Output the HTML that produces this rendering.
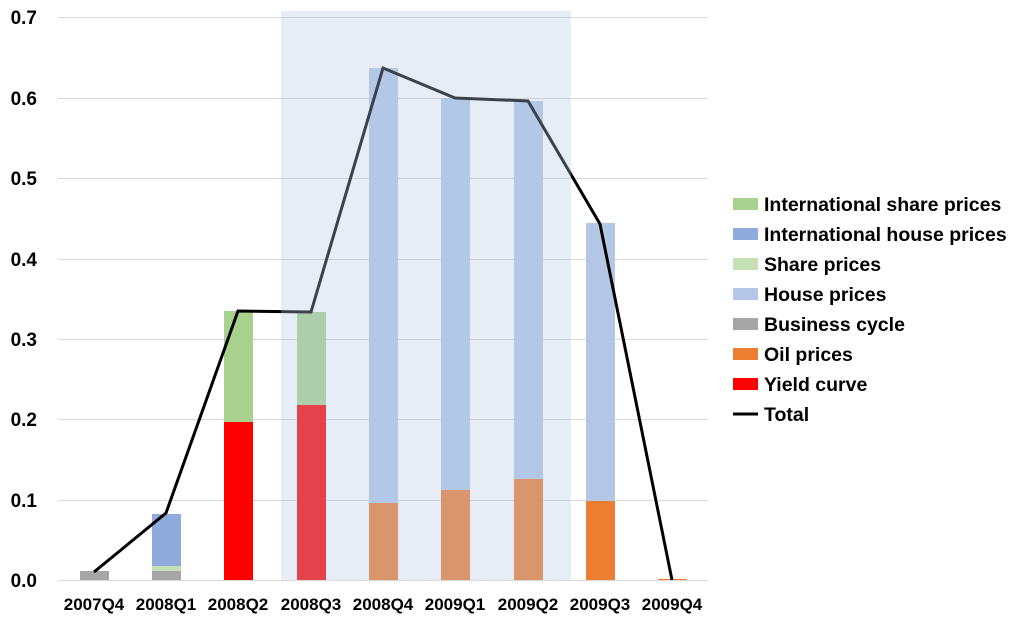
<!DOCTYPE html>
<html><head><meta charset="utf-8"><style>
body{margin:0;background:#fff}
text{font-family:"Liberation Sans",Arial,sans-serif;font-weight:bold;fill:#000}
</style></head><body>
<svg width="1024" height="620" xmlns="http://www.w3.org/2000/svg">
<g stroke="#d9d9d9" stroke-width="1">
<line x1="58" x2="708" y1="580.5" y2="580.5"/>
<line x1="58" x2="708" y1="500.5" y2="500.5"/>
<line x1="58" x2="708" y1="419.5" y2="419.5"/>
<line x1="58" x2="708" y1="339.5" y2="339.5"/>
<line x1="58" x2="708" y1="259.5" y2="259.5"/>
<line x1="58" x2="708" y1="178.5" y2="178.5"/>
<line x1="58" x2="708" y1="98.5" y2="98.5"/>
<line x1="58" x2="708" y1="17.5" y2="17.5"/>
</g>
<g font-size="19" text-anchor="end">
<text x="37" y="587">0.0</text><text x="37" y="507">0.1</text><text x="37" y="426">0.2</text>
<text x="37" y="346">0.3</text><text x="37" y="266">0.4</text><text x="37" y="185">0.5</text>
<text x="37" y="105">0.6</text><text x="37" y="24">0.7</text>
</g>
<rect x="80" y="571" width="29" height="9" fill="#a5a5a5"/>
<rect x="152" y="571" width="29" height="9" fill="#a5a5a5"/>
<rect x="152" y="566" width="29" height="5" fill="#c5e0b4"/>
<rect x="152" y="514" width="29" height="52" fill="#8faadc"/>
<rect x="224" y="422" width="29" height="158" fill="#ff0000"/>
<rect x="224" y="311" width="29" height="111" fill="#a9d18e"/>
<rect x="297" y="405" width="29" height="175" fill="#ff0000"/>
<rect x="297" y="312" width="29" height="93" fill="#a9d18e"/>
<rect x="369" y="503" width="29" height="77" fill="#ed7d31"/>
<rect x="369" y="68" width="29" height="435" fill="#b4c7e7"/>
<rect x="441" y="490" width="29" height="90" fill="#ed7d31"/>
<rect x="441" y="98" width="29" height="392" fill="#b4c7e7"/>
<rect x="514" y="479" width="29" height="101" fill="#ed7d31"/>
<rect x="514" y="101" width="29" height="378" fill="#b4c7e7"/>
<rect x="586" y="501" width="29" height="79" fill="#ed7d31"/>
<rect x="586" y="223" width="29" height="278" fill="#b4c7e7"/>
<rect x="658" y="579" width="29" height="1" fill="#ed7d31"/>
<polyline fill="none" stroke="#000" stroke-width="3" stroke-linejoin="miter" points="94,572 166,513 238,311 311,312 383,68 455,98 528,101 600,224 672,580"/>
<rect x="281" y="11" width="290" height="569" fill="rgb(180,199,231)" fill-opacity="0.33"/>
<g font-size="17" text-anchor="middle">
<text x="94" y="610">2007Q4</text><text x="166" y="610">2008Q1</text><text x="238" y="610">2008Q2</text>
<text x="311" y="610">2008Q3</text><text x="383" y="610">2008Q4</text><text x="455" y="610">2009Q1</text>
<text x="528" y="610">2009Q2</text><text x="600" y="610">2009Q3</text><text x="672" y="610">2009Q4</text>
</g>
<g font-size="19.5">
<rect x="733" y="198" width="25" height="12" fill="#a9d18e"/><text x="764" y="211">International share prices</text>
<rect x="733" y="228" width="25" height="12" fill="#8faadc"/><text x="764" y="241">International house prices</text>
<rect x="733" y="258" width="25" height="12" fill="#c5e0b4"/><text x="764" y="271">Share prices</text>
<rect x="733" y="288" width="25" height="12" fill="#b4c7e7"/><text x="764" y="301">House prices</text>
<rect x="733" y="318" width="25" height="12" fill="#a5a5a5"/><text x="764" y="331">Business cycle</text>
<rect x="733" y="348" width="25" height="12" fill="#ed7d31"/><text x="764" y="361">Oil prices</text>
<rect x="733" y="378" width="25" height="12" fill="#ff0000"/><text x="764" y="391">Yield curve</text>
<line x1="733" x2="758" y1="414" y2="414" stroke="#000" stroke-width="3"/><text x="764" y="421">Total</text>
</g>
</svg>
</body></html>
